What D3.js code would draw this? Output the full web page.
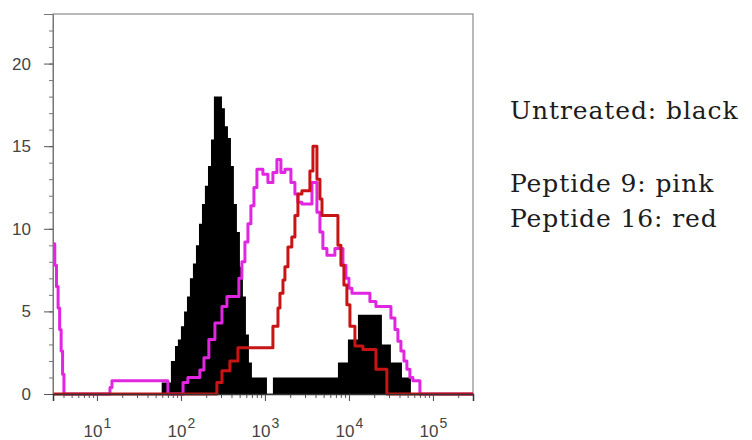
<!DOCTYPE html>
<html><head><meta charset="utf-8">
<script src="https://cdn.jsdelivr.net/npm/d3@7"></script>
<style>
html,body{margin:0;padding:0;background:#fff;}
svg{display:block;}
</style>
</head><body>
<svg id="chart" width="752" height="440"></svg>
<script>
// ---- data ----
const untreatedX = [3, 59, 76, 85, 92, 100, 109, 118, 128, 139, 151, 164, 178, 193, 210, 228, 247, 308, 334, 363, 394, 427, 464, 504, 547, 594, 645, 700, 1057, 1245, 7400, 9730, 12800, 24700, 31600, 42800, 54700];
const untreatedY = [0, 0.7, 2.0, 2.9, 3.3, 4.1, 5.0, 5.9, 7.0, 7.9, 9.0, 10.3, 11.5, 12.6, 13.8, 15.4, 18.0, 17.3, 16.2, 15.5, 13.8, 11.5, 9.8, 7.7, 5.9, 3.6, 1.9, 1.0, 0, 1.0, 1.9, 3.3, 4.8, 3.0, 1.9, 1.0, 0];

const pep9X = [3, 3.15, 3.3, 3.45, 3.6, 3.75, 3.9, 4.05, 14.3, 15.1, 70, 106, 121, 168, 188, 215, 254, 308, 353, 490, 532, 578, 628, 681, 740, 803, 946, 1086, 1245, 1389, 1550, 1730, 2040, 2276, 2472, 2756, 3630, 4160, 4520, 4900, 5470, 6810, 8490, 9210, 10000, 10860, 17780, 20960, 31620, 35300, 38300, 41600, 45200, 49000, 53200, 57800, 70000, 300000];
const pep9Y = [9.1, 7.8, 6.5, 5.2, 3.9, 2.6, 1.2, 0, 0.4, 0.8, 0, 0.7, 1.0, 1.45, 2.2, 3.3, 4.3, 5.3, 5.9, 7.0, 8.0, 9.2, 10.3, 11.4, 12.5, 13.6, 13.3, 12.8, 13.4, 14.2, 13.4, 13.6, 12.8, 12.1, 11.6, 11.5, 12.8, 11.0, 9.8, 8.8, 8.4, 8.8, 7.8, 7.0, 6.4, 6.1, 5.6, 5.3, 4.6, 3.9, 3.2, 2.6, 2.0, 1.5, 1.0, 0.8, 0, 0];

const pep16X = [3, 268, 308, 383, 477, 1245, 1430, 1510, 1640, 1730, 1880, 2090, 2276, 2472, 2756, 3430, 3730, 4160, 4520, 4780, 7400, 8030, 8720, 9460, 10280, 11790, 14680, 20960, 28300, 300000];
const pep16Y = [0, 0.7, 1.4, 2.0, 2.8, 4.1, 5.2, 6.1, 6.9, 7.7, 8.9, 9.5, 10.8, 12.1, 12.3, 13.5, 15.0, 13.0, 11.8, 10.8, 9.0, 7.8, 6.6, 5.4, 4.1, 2.9, 2.7, 1.5, 0, 0];

const xDomain = [3, 300000];
const yDomain = [0, 23];
const xMajorTicks = [10, 100, 1000, 10000, 100000];
const xTickExponents = ["1", "2", "3", "4", "5"];
const yMajorTicks = [0, 5, 10, 15, 20];
const legendLines = ["Untreated: black", "Peptide 9: pink", "Peptide 16: red"];

// ---- layout ----
const svg = d3.select("#chart");
const L = 53, R = 473, T = 14, B = 394;
const x = d3.scaleLog().domain(xDomain).range([L, R]);
const y = d3.scaleLinear().domain(yDomain).range([B, T]);

svg.append("defs").append("clipPath").attr("id", "clip")
  .append("rect").attr("x", L).attr("y", T).attr("width", R - L).attr("height", B - T + 2);

// frame
svg.append("rect").attr("x", L).attr("y", T).attr("width", R - L).attr("height", B - T)
  .attr("fill", "none").attr("stroke", "#8a8a8a").attr("stroke-width", 1.2);

const plot = svg.append("g").attr("clip-path", "url(#clip)");

const zip = (xs, ys) => xs.map((v, i) => [v, ys[i]]);

// untreated filled
const area = d3.area().curve(d3.curveStepAfter)
  .x(d => x(d[0])).y0(y(0)).y1(d => y(d[1]));
plot.append("path").datum(zip(untreatedX, untreatedY))
  .attr("d", area).attr("fill", "#000");

const line = d3.line().curve(d3.curveStepAfter).x(d => x(d[0])).y(d => y(d[1]));
plot.append("path").datum(zip(pep9X, pep9Y))
  .attr("d", line).attr("fill", "none").attr("stroke", "#e026e0").attr("stroke-width", 3)
  .attr("stroke-linejoin", "round");
plot.append("path").datum(zip(pep16X, pep16Y))
  .attr("d", line).attr("fill", "none").attr("stroke", "#c81414").attr("stroke-width", 3)
  .attr("stroke-linejoin", "round");

// y axis
const yMinor = d3.range(0, 24, 1);
const yAxisMinor = d3.axisLeft(y).tickValues(yMinor).tickSize(4).tickFormat("");
svg.append("g").attr("transform", `translate(${L},0)`).call(yAxisMinor)
  .call(g => g.select(".domain").remove())
  .call(g => g.selectAll("line").attr("stroke", "#777"));
const yAxis = d3.axisLeft(y).tickValues(yMajorTicks).tickSize(9).tickPadding(13);
svg.append("g").attr("transform", `translate(${L},0)`).call(yAxis)
  .call(g => g.select(".domain").attr("stroke", "#777"))
  .call(g => g.selectAll("line").attr("stroke", "#555"))
  .call(g => g.selectAll("text").attr("font-family", "Arial, 'Liberation Sans', sans-serif")
    .attr("font-size", 17).attr("fill", "#444"));

// x axis
const xMinor = [];
for (let e = 0; e <= 5; e++) for (let m = 2; m <= 9; m++) {
  const v = m * Math.pow(10, e);
  if (v > xDomain[0] && v < xDomain[1]) xMinor.push(v);
}
const xAxisMinor = d3.axisBottom(x).tickValues(xMinor).tickSize(4).tickFormat("");
svg.append("g").attr("transform", `translate(0,${B})`).call(xAxisMinor)
  .call(g => g.select(".domain").remove())
  .call(g => g.selectAll("line").attr("stroke", "#555"));
const xAxis = d3.axisBottom(x).tickValues(xMajorTicks).tickSize(7).tickPadding(14).tickFormat("");
const gx = svg.append("g").attr("transform", `translate(0,${B})`).call(xAxis);
gx.select(".domain").attr("stroke", "#333").attr("stroke-width", 1.5);
gx.selectAll("line").attr("stroke", "#444");
gx.selectAll(".tick text").each(function(d, i) {
  const t = d3.select(this).text("")
    .attr("font-family", "Arial, 'Liberation Sans', sans-serif")
    .attr("font-size", 17).attr("fill", "#444").attr("dy", "1.3em").attr("text-anchor", "middle");
  t.append("tspan").text("10");
  t.append("tspan").text(xTickExponents[i]).attr("font-size", 14).attr("dy", -9).attr("dx", 1);
});

// legend text
const legendY = [119, 192, 227];
svg.append("g").selectAll("text").data(legendLines).join("text")
  .attr("x", 510).attr("y", (d, i) => legendY[i])
  .attr("font-family", "'DejaVu Serif', serif").attr("font-size", 25)
  .attr("letter-spacing", 0.9)
  .attr("fill", "#1c1c1c").text(d => d);
</script>
</body></html>
